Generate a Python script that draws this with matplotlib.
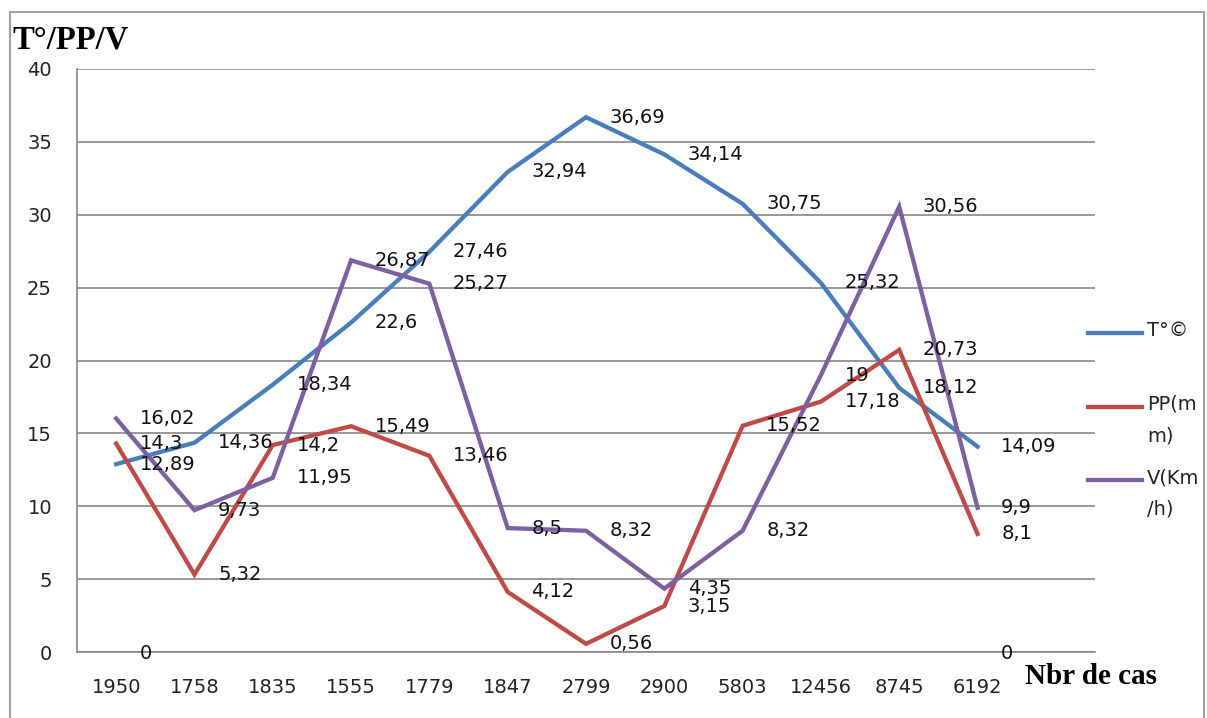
import numpy as np
import matplotlib
matplotlib.use('Agg')
import matplotlib.pyplot as plt
from matplotlib.lines import Line2D

# data
categories = ['1950', '1758', '1835', '1555', '1779', '1847', '2799',
              '2900', '5803', '12456', '8745', '6192']
temp = [12.89, 14.36, 18.34, 22.6, 27.46, 32.94, 36.69, 34.14, 30.75, 25.32, 18.12, 14.09]
pluie = [14.3, 5.32, 14.2, 15.49, 13.46, 4.12, 0.56, 3.15, 15.52, 17.18, 20.73, 8.1]
vent = [16.02, 9.73, 11.95, 26.87, 25.27, 8.5, 8.32, 4.35, 8.32, 19, 30.56, 9.9]
# hidden series whose only visible marks are the "0" labels
zero_idx = [0, 11]
zero_vals = [0, 0]

series_labels = ['T°©', 'PP(m\nm)', 'V(Km\n/h)']
series_colors = ['#4A7EBB', '#BE4B48', '#7D60A0']

ylabel = 'T°/PP/V'
xlabel = 'Nbr de cas'

fontSize = 14
gridClr = '#868686'

def fmt(v):
    return ('%g' % v).replace('.', ',')

fig = plt.figure(figsize=(12.07, 7.18), dpi=100)
ax = fig.add_axes([77 / 1207, 1 - 652 / 718, (1095 - 77) / 1207, (652 - 69) / 718])

x = np.arange(len(categories))
for vals, clr in zip([temp, pluie, vent], series_colors):
    ax.plot(x, vals, color=clr, lw=3.1, solid_joinstyle='miter', zorder=3)
    for xi, v in zip(x, vals):
        ax.annotate(fmt(v), (xi, v), xytext=(17, 0), textcoords='offset points',
                    ha='left', va='center', fontsize=fontSize, color='#111111', zorder=4)

ax.plot(zero_idx, zero_vals, lw=0)
for xi, v in zip(zero_idx, zero_vals):
    ax.annotate(fmt(v), (xi, v), xytext=(17, -1), textcoords='offset points',
                ha='left', va='center', fontsize=fontSize, color='#111111', zorder=4)

ax.set_xlim(-0.5, len(categories) + 0.5)
ax.set_ylim(0, 40)
ax.set_yticks(np.arange(0, 41, 5))
ax.set_xticks(x)
ax.set_xticklabels(categories)
ax.tick_params(axis='both', length=0, labelsize=fontSize, colors='#222222')
ax.tick_params(axis='y', pad=18)
ax.tick_params(axis='x', pad=19)
ax.grid(axis='y', color=gridClr, lw=1.2)
ax.set_axisbelow(True)
for s in ['top', 'right']:
    ax.spines[s].set_visible(False)
ax.spines['left'].set_color(gridClr)
ax.spines['left'].set_linewidth(1.2)
ax.spines['bottom'].set_color(gridClr)
ax.spines['bottom'].set_linewidth(1.2)

# legend drawn by hand so the line sits on the first text row
leg_y = [333, 407, 480]
for lab, clr, yy in zip(series_labels, series_colors, leg_y):
    fy = 1 - yy / 718
    fig.add_artist(Line2D([1088 / 1207, 1142 / 1207], [fy, fy], color=clr, lw=3.1,
                          transform=fig.transFigure))
    fig.text(1147 / 1207, fy + 12 / 718, lab, ha='left', va='top', fontsize=fontSize,
             color='#222222', linespacing=1.85)

# titles
fig.text(12 / 1207, 1 - 40 / 718, ylabel, ha='left', va='center', fontsize=23.5,
         family='Liberation Serif', weight='bold')
fig.text(1025 / 1207, 1 - 676 / 718, xlabel, ha='left', va='center', fontsize=21,
         family='Liberation Serif', weight='bold')

# outer frame
frame = dict(color='#A0A0A0', lw=1.5, transform=fig.transFigure)
fig.add_artist(Line2D([10 / 1207, 1204 / 1207], [1 - 12 / 718, 1 - 12 / 718], **frame))
fig.add_artist(Line2D([10 / 1207, 10 / 1207], [1 - 12 / 718, 0], **frame))
fig.add_artist(Line2D([1204 / 1207, 1204 / 1207], [1 - 12 / 718, 0], **frame))

fig.savefig('out.png', dpi=100)
